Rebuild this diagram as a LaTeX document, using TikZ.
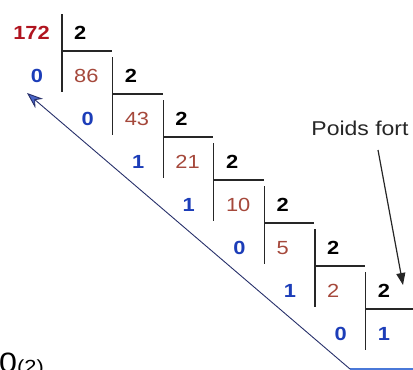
\documentclass[tikz,border=0pt]{standalone}
\usepackage{fontspec}
\setmainfont{Liberation Sans}[FakeStretch=1.15]
\usetikzlibrary{arrows.meta,positioning,calc}
\definecolor{numred}{HTML}{B0141F}
\definecolor{quored}{HTML}{A5483B}
\definecolor{restblue}{HTML}{1C3DB8}
\definecolor{lineblue}{HTML}{27306A}
\definecolor{lightblue}{HTML}{4A78D8}

\begin{document}
\begin{tikzpicture}[x=1pt,y=-1pt,
    digit/.style={inner sep=0pt, font=\fontsize{19}{19}\selectfont},
    divisor/.style={digit, anchor=base west, font=\fontsize{19}{19}\selectfont\bfseries},
    quot/.style={digit, anchor=base west, text=quored},
    lastquot/.style={digit, anchor=base west, text=restblue, font=\fontsize{19}{19}\selectfont\bfseries},
    rest/.style={digit, anchor=base, text=restblue, font=\fontsize{19}{19}\selectfont\bfseries},
    rule/.style={line width=1.2pt, black!85}]
    \useasboundingbox (0,0) rectangle (413,370);
    \clip (0,0) rectangle (413,370);

    % Number to convert
    \node[digit, anchor=base east, text=numred, font=\fontsize{19}{19}\selectfont\bfseries] (dividend) at (50,39) {172};

    % Successive divisions by 2
    \foreach \k/\q/\r/\qs in {0/86/0/quot, 1/43/0/quot, 2/21/1/quot, 3/10/1/quot,
                              4/5/0/quot, 5/2/1/quot, 6/1/0/lastquot} {
        \pgfmathsetmacro\vx{62+50.6*\k}
        \pgfmathsetmacro\by{39+43*\k}
        \pgfmathsetmacro\nby{39+43*(\k+1)}
        \node[divisor] (div\k) at (\vx+12,\by) {2};
        \node[\qs] (quo\k) at (\vx+12,\nby) {\q};
        \node[rest] (rem\k) at (\vx-25,\nby) {\r};
        \draw[rule] (\vx,\by-25) -- (\vx,\nby+10);
        \draw[rule] (\vx,\by+12) -- ++(50,0);
    }

    % Most significant bit
    \node[inner sep=0pt, font=\fontsize{20}{20}\selectfont, text=black!85] (fort) at (360,128) {Poids fort};
    \coordinate (fortstart) at (378,150);
    \coordinate (forttip) at (403,285);
    \draw[line width=1.2pt, black!85, -{Triangle[length=12pt,width=9pt]}] (fortstart) -- (forttip);

    % Reading direction
    \coordinate (bottomend) at (414,369);
    \coordinate (corner) at (350,369);
    \coordinate (readtip) at (27,93);
    \draw[line width=2pt, lightblue] (bottomend) -- (corner);
    \draw[line width=0.9pt, lineblue, -{Stealth[length=16pt,width=12pt,fill=restblue!80!white]}] (corner) -- (readtip);

    % Result (cut off)
    \node[inner sep=0pt, anchor=base west, font=\fontsize{28}{28}\selectfont] (result) at (-1,372)
        {0\raisebox{-1pt}{\fontsize{19}{19}\selectfont(2)}};
\end{tikzpicture}
\end{document}
